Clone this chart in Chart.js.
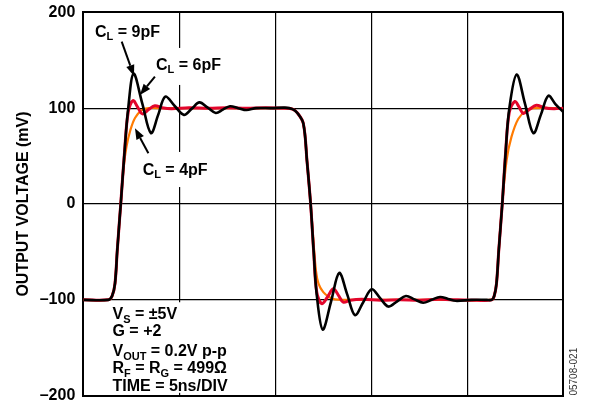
<!DOCTYPE html>
<html>
<head>
<meta charset="utf-8">
<script src="https://cdn.jsdelivr.net/npm/chart.js@4.4.1/dist/chart.umd.min.js"></script>
<style>
    html, body { margin: 0; padding: 0; background: #fff; }
    #wrap { position: relative; width: 592px; height: 407px; }
</style>
</head>
<body>
<div id="wrap"><canvas id="chart-step"></canvas></div>
<script>
// Small-signal step response for three load capacitances (time in ns, output in mV)
const blackTime = [0, 1.3, 1.5, 1.65, 1.77, 1.95, 2.15, 2.34, 2.62, 3.07, 3.52, 3.9, 4.27, 4.75, 5.24, 5.65, 6.05, 6.48, 6.9, 7.27, 7.64, 8.07, 8.5, 9.0, 9.8, 10.5, 10.9, 11.15, 11.46, 11.65, 11.84, 12.0, 12.16, 12.47, 12.9, 13.33, 13.74, 14.15, 14.58, 15.02, 15.45, 15.89, 16.35, 16.8, 17.25, 17.7, 18.14, 18.58, 19.0, 19.4, 20.2, 21.0, 21.27, 21.4, 21.52, 21.64, 21.82, 22.0, 22.19, 22.57, 23.0, 23.44, 23.83, 24.22, 24.6, 25.0];
const blackMv = [-100, -100, -96, -83, -48, 0, 55, 100, 136, 105, 74, 93, 112, 102.5, 93, 99.5, 106, 100.5, 95, 98.5, 102, 100, 98, 100, 100, 100.5, 99, 95, 84, 45, 0, -50, -95, -131, -102, -72, -94, -116, -102.5, -89, -98, -107, -101.5, -96, -99.5, -103, -100, -97, -99, -101, -100, -100, -100, -96, -83, -48, 0, 55, 100, 135, 105, 74, 93, 113, 104, 96];

const redTime = [0, 1.3, 1.5, 1.65, 1.77, 1.95, 2.15, 2.34, 2.59, 2.83, 3.08, 3.4, 3.73, 4.1, 4.6, 5.5, 6.5, 7.5, 8.5, 9.5, 10.5, 10.9, 11.15, 11.46, 11.65, 11.84, 12.0, 12.16, 12.42, 12.72, 13.02, 13.28, 13.54, 13.9, 14.5, 15.5, 16.5, 17.5, 18.5, 19.5, 20.5, 21.27, 21.4, 21.52, 21.64, 21.82, 22.0, 22.19, 22.48, 22.7, 22.92, 23.25, 23.6, 24.0, 24.5, 25.0];
const redMv = [-100, -100, -96, -83, -48, 0, 55, 96, 108, 101, 94, 98.5, 102.5, 100.5, 99.5, 100.5, 100, 100.5, 100, 100.5, 100, 99, 95, 84, 45, 0, -50, -92, -104, -97, -88.5, -95, -102.5, -100.5, -99.5, -100.5, -100, -100.5, -99.5, -100, -100.5, -100, -96, -83, -48, 0, 55, 96, 107, 101, 94.5, 99, 103, 100.5, 99.5, 100];

const orangeTime = [0, 1.3, 1.5, 1.65, 1.77, 1.95, 2.1, 2.25, 2.45, 2.7, 3.05, 3.4, 4.0, 6.0, 8.0, 10.5, 10.9, 11.15, 11.46, 11.65, 11.84, 11.96, 12.12, 12.25, 12.5, 12.8, 13.1, 13.6, 16.0, 19.0, 21.27, 21.4, 21.52, 21.64, 21.82, 22.05, 22.3, 22.66, 23.1, 23.5, 25.0];
const orangeMv = [-100, -100, -96, -83, -48, 0, 38, 60, 77, 90, 98, 100, 100, 100, 100, 100, 99, 95, 84, 45, 0, -32, -70, -83, -92, -97, -99.5, -100, -100, -100, -100, -96, -83, -48, 0, 46, 70, 89, 98, 100, 100];

const yTicks = [-200, -100, 0, 100, 200];
const yTickLabels = ["–200", "–100", "0", "100", "200"];
const yTitle = "OUTPUT VOLTAGE (mV)";
const figureCode = "05708-021";

// rich text: [text, isSubscript]
const label9 = [["C", 0], ["L", 1], [" = 9pF", 0]];
const label6 = [["C", 0], ["L", 1], [" = 6pF", 0]];
const label4 = [["C", 0], ["L", 1], [" = 4pF", 0]];
const conditionLines = [
    [["V", 0], ["S", 1], [" = ±5V", 0]],
    [["G = +2", 0]],
    [["V", 0], ["OUT", 1], [" = 0.2V p-p", 0]],
    [["R", 0], ["F", 1], [" = R", 0], ["G", 1], [" = 499Ω", 0]],
    [["TIME = 5ns/DIV", 0]],
];

const FONT = '"Liberation Sans", Arial, Helvetica, sans-serif';

const toPoints = (ts, vs) => ts.map((t, i) => ({ x: t, y: vs[i] }));

// annotation placement, in data units (ns, mV)
const notes = [
    { text: label9, at: [0.61, 174.6], tail: [2.0, 169.4], tip: [2.64, 133.6] },
    { text: label6, at: [3.79, 139.9], tail: [3.73, 132.9], tip: [2.95, 113.8], box: [3.64, 7.43, 162.8, 124.2] },
    { text: label4, at: [3.09, 30.3], tail: [3.39, 52.9], tip: [2.69, 79], box: [2.95, 6.76, 54.3, 17.7] },
];
const conditionsAt = { t: 1.52, baselines: [-120.4, -137.8, -158.7, -176.7, -194.9], box: [1.29, 7.9, -102.5, -197] };

function drawRich(ctx, segs, x, y) {
    ctx.textBaseline = "alphabetic";
    ctx.textAlign = "left";
    for (const [txt, sub] of segs) {
        ctx.font = sub ? `bold 11px ${FONT}` : `bold 16px ${FONT}`;
        ctx.fillText(txt, x, sub ? y + 3.5 : y);
        x += ctx.measureText(txt).width;
    }
}

function drawArrow(ctx, x0, y0, x1, y1) {
    const ang = Math.atan2(y1 - y0, x1 - x0);
    const len = 11, half = 4.2;
    const bx = x1 - len * Math.cos(ang), by = y1 - len * Math.sin(ang);
    ctx.beginPath();
    ctx.moveTo(x0, y0);
    ctx.lineTo(bx, by);
    ctx.lineWidth = 2;
    ctx.stroke();
    ctx.beginPath();
    ctx.moveTo(x1, y1);
    ctx.lineTo(bx + half * Math.sin(ang), by - half * Math.cos(ang));
    ctx.lineTo(bx - half * Math.sin(ang), by + half * Math.cos(ang));
    ctx.closePath();
    ctx.fill();
}

const overlay = {
    id: "overlay",
    beforeDatasetsDraw(chart) {
        const { ctx, scales: { x, y } } = chart;
        const boxes = notes.filter(n => n.box).map(n => n.box).concat([conditionsAt.box]);
        ctx.save();
        ctx.fillStyle = "#fff";
        for (const b of boxes) {
            const x0 = x.getPixelForValue(b[0]), x1 = x.getPixelForValue(b[1]);
            const y0 = y.getPixelForValue(b[2]), y1 = y.getPixelForValue(b[3]);
            ctx.fillRect(x0, y0, x1 - x0, y1 - y0);
        }
        ctx.restore();
    },
    afterDatasetsDraw(chart) {
        const { ctx, scales: { x, y } } = chart;
        ctx.save();
        ctx.fillStyle = "#000";
        ctx.strokeStyle = "#000";
        for (const n of notes) {
            drawRich(ctx, n.text, x.getPixelForValue(n.at[0]), y.getPixelForValue(n.at[1]));
            drawArrow(ctx,
                x.getPixelForValue(n.tail[0]), y.getPixelForValue(n.tail[1]),
                x.getPixelForValue(n.tip[0]), y.getPixelForValue(n.tip[1]));
        }
        conditionLines.forEach((segs, i) => {
            drawRich(ctx, segs, x.getPixelForValue(conditionsAt.t), y.getPixelForValue(conditionsAt.baselines[i]));
        });
        ctx.restore();
    },
    afterDraw(chart) {
        const { ctx, chartArea } = chart;
        ctx.save();
        ctx.translate(chartArea.right + 11, chartArea.bottom - 24);
        ctx.rotate(-Math.PI / 2);
        ctx.font = `10px ${FONT}`;
        ctx.fillStyle = "#333";
        ctx.textAlign = "center";
        ctx.textBaseline = "middle";
        ctx.fillText(figureCode, 0, 0);
        ctx.restore();
    },
};

const edgeWidth = (c) => (c.tick && (c.tick.value === c.scale.min || c.tick.value === c.scale.max)) ? 2 : 1.2;

new Chart(document.getElementById("chart-step"), {
    type: "line",
    data: {
        datasets: [
            {
                label: "9pF",
                data: toPoints(blackTime, blackMv),
                borderColor: "#000000",
                borderWidth: 2.6,
                pointRadius: 0,
                tension: 0.35,
                order: 1,
            },
            {
                label: "6pF",
                data: toPoints(redTime, redMv),
                borderColor: "#e2062c",
                borderWidth: 3,
                pointRadius: 0,
                tension: 0.35,
                order: 2,
            },
            {
                label: "4pF",
                data: toPoints(orangeTime, orangeMv),
                borderColor: "#ff7b00",
                borderWidth: 2.2,
                pointRadius: 0,
                tension: 0.35,
                order: 3,
            },
        ],
    },
    options: {
        responsive: true,
        maintainAspectRatio: false,
        animation: false,
        layout: { padding: { left: 0, top: 12.3, right: 28.7, bottom: 11.3 } },
        scales: {
            x: {
                type: "linear",
                min: 0,
                max: 25,
                ticks: { stepSize: 5, display: false },
                grid: { color: "#000", lineWidth: edgeWidth, drawTicks: false },
                border: { color: "#000", width: 2 },
                afterFit: (s) => { s.height = 0; },
            },
            y: {
                min: -200,
                max: 200,
                ticks: {
                    stepSize: 100,
                    padding: 0,
                    color: "#000",
                    font: { family: FONT, size: 16, weight: "bold" },
                    callback: (v) => {
                        const i = yTicks.indexOf(v);
                        return i >= 0 ? yTickLabels[i] : "";
                    },
                },
                grid: {
                    color: "#000",
                    lineWidth: edgeWidth,
                    drawTicks: true,
                    tickLength: 8,
                    tickColor: "rgba(0,0,0,0)",
                },
                border: { color: "#000", width: 2 },
                title: {
                    display: true,
                    text: yTitle,
                    color: "#000",
                    font: { family: FONT, size: 16, weight: "bold" },
                    padding: { top: 14, bottom: 0 },
                },
                afterFit: (s) => { s.width = 83.3; },
            },
        },
        plugins: {
            legend: { display: false },
            tooltip: { enabled: false },
        },
    },
    plugins: [overlay],
});
</script>
</body>
</html>
